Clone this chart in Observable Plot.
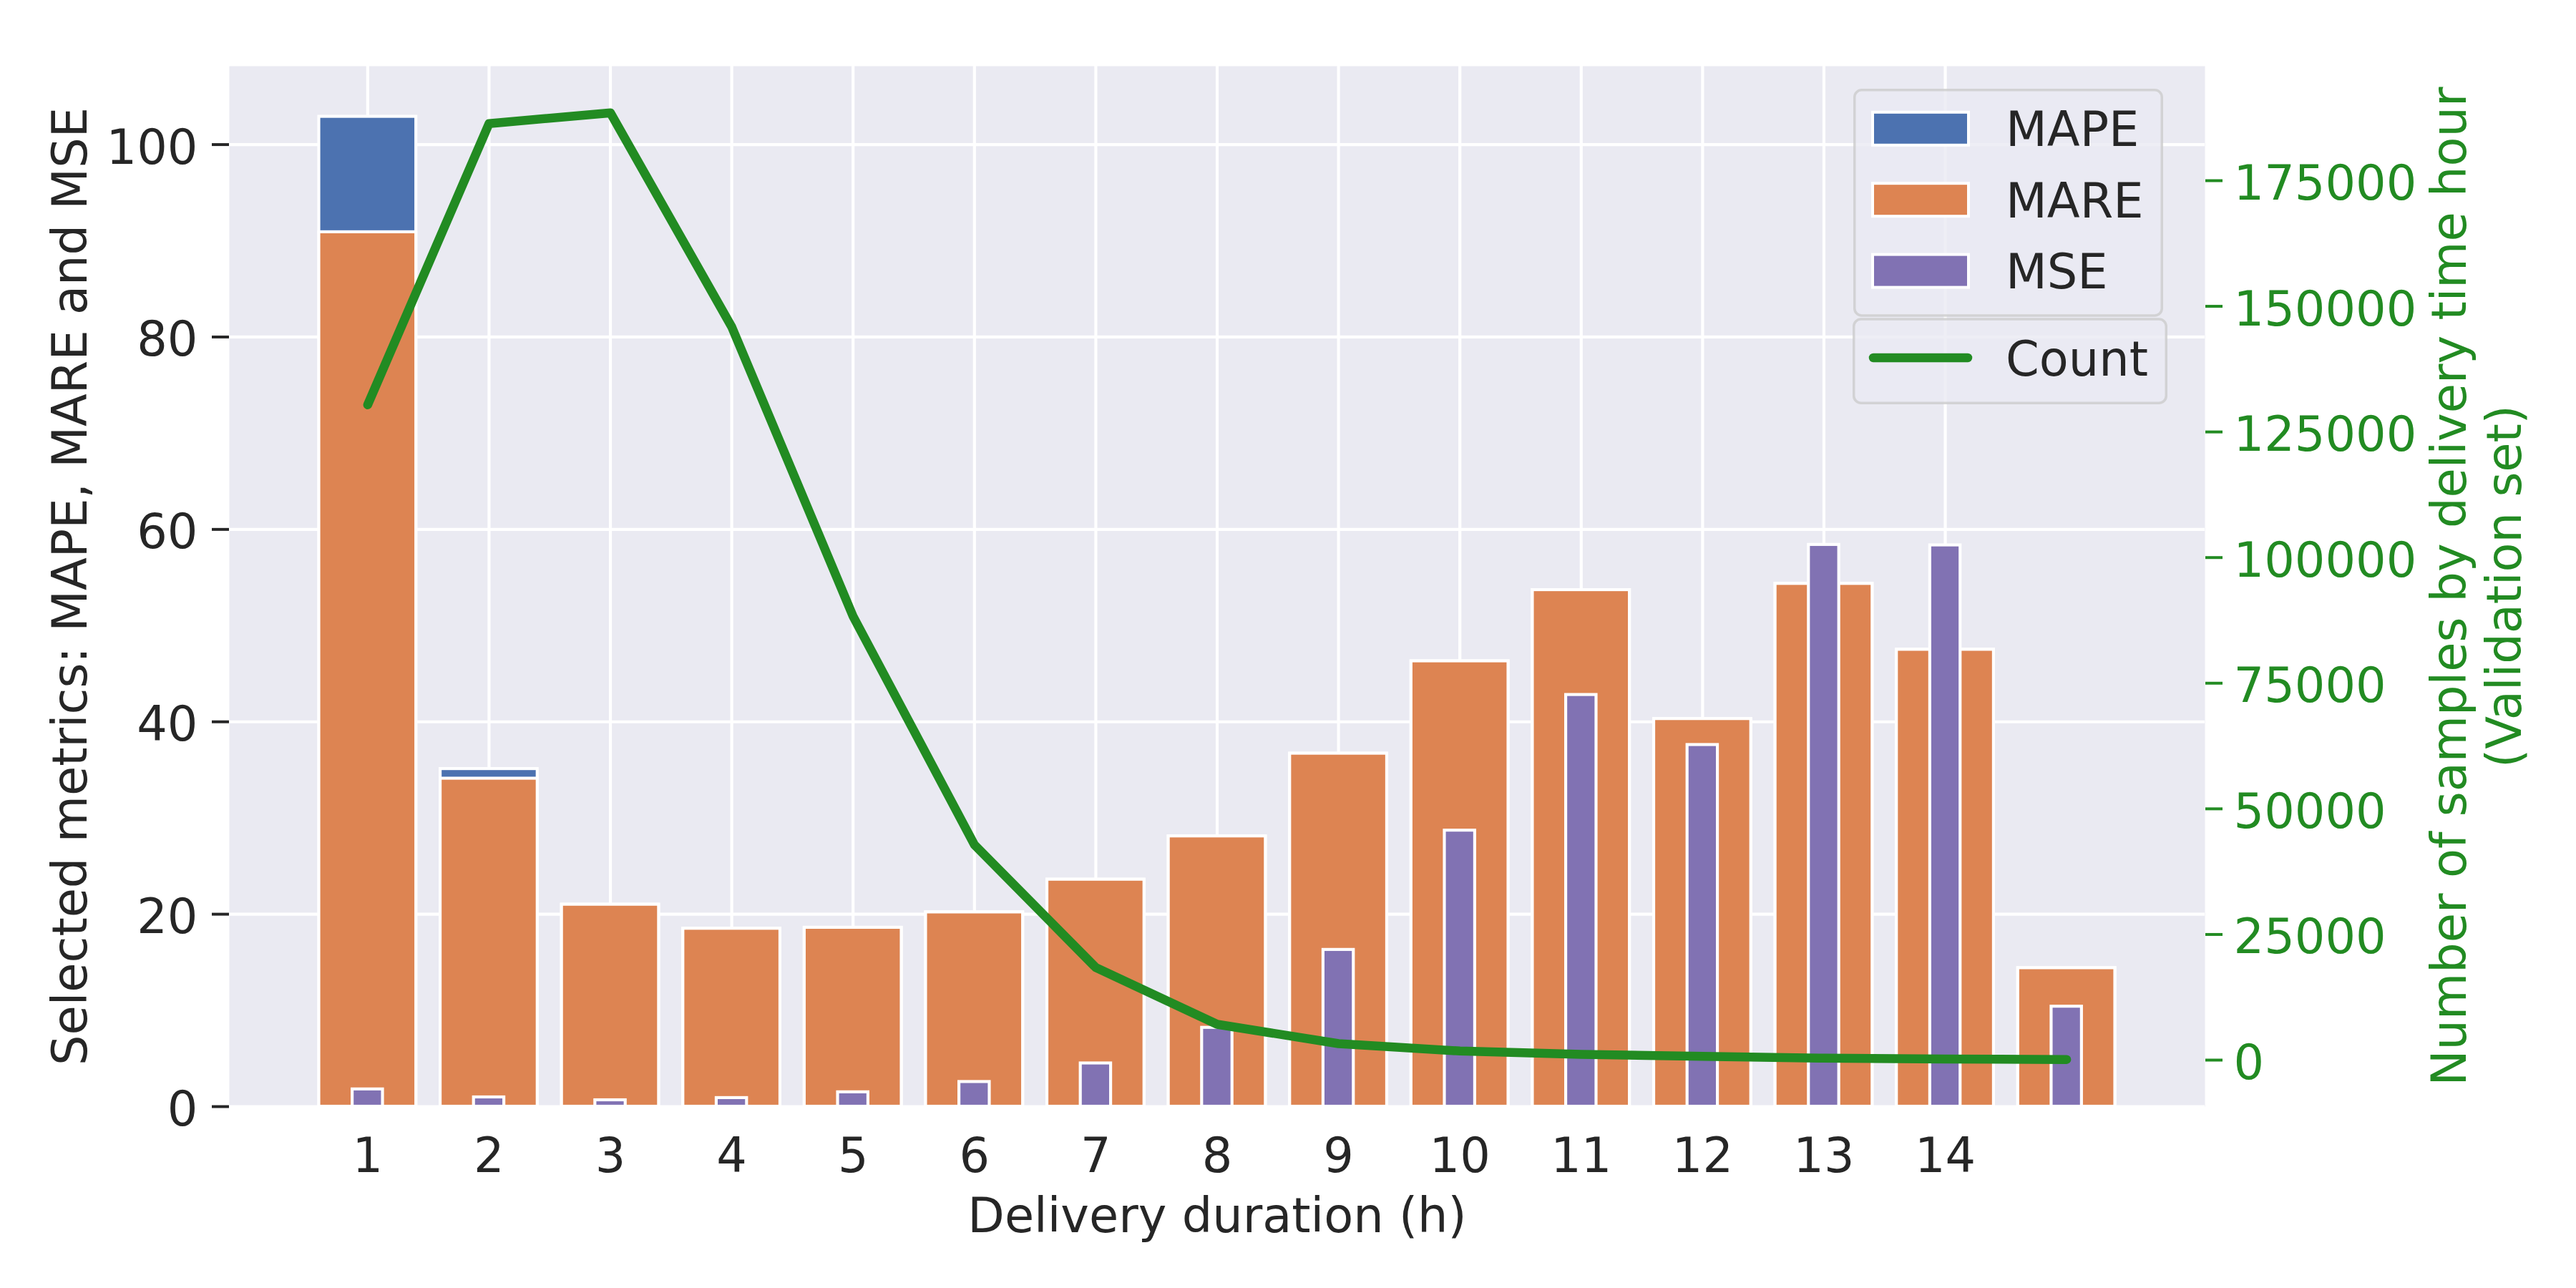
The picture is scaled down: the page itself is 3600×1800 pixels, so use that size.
<!DOCTYPE html>
<html>
<head>
<meta charset="utf-8">
<script src="https://cdn.jsdelivr.net/npm/d3@7"></script>
<script src="https://cdn.jsdelivr.net/npm/@observablehq/plot@0.6"></script>
<style>
  html, body { margin: 0; padding: 0; background: #ffffff; }
  #chart { position: relative; width: 3600px; height: 1800px; }
  #chart > svg { display: block; }
  #legend { position: absolute; left: 0; top: 0; pointer-events: none; }
</style>
</head>
<body>
<div id="chart"></div>
<script>
// ---- data ----
const categories = [1, 2, 3, 4, 5, 6, 7, 8, 9, 10, 11, 12, 13, 14, 15];
const xTickValues = [1, 2, 3, 4, 5, 6, 7, 8, 9, 10, 11, 12, 13, 14];
const xTickLabels = ["1", "2", "3", "4", "5", "6", "7", "8", "9", "10", "11", "12", "13", "14"];
const mape = [102.9, 35.1, 21.0, 18.5, 18.6, 20.2, 23.6, 28.1, 36.7, 46.3, 53.7, 40.3, 54.35, 47.5, 14.4];
const mare = [90.9, 34.1, 21.0, 18.5, 18.6, 20.2, 23.6, 28.1, 36.7, 46.3, 53.7, 40.3, 54.35, 47.5, 14.4];
const mse = [1.8, 0.97, 0.67, 0.9, 1.5, 2.57, 4.5, 8.2, 16.3, 28.7, 42.8, 37.6, 58.4, 58.35, 10.4];
const count = [130400, 186360, 188500, 145900, 88300, 42850, 18410, 7120, 3275, 1810, 1150, 740, 380, 210, 120];
const seriesNames = ["MAPE", "MARE", "MSE"];
const seriesColors = ["#4C72B0", "#DD8452", "#8172B3"];
const lineName = "Count";
const lineColor = "#228B22";
const leftTicks = [0, 20, 40, 60, 80, 100];
const rightTicks = [0, 25000, 50000, 75000, 100000, 125000, 150000, 175000];
const leftDomain = [0, 108.15];
const rightDomain = [-9255, 197780];
const xLabel = "Delivery duration (h)";
const leftLabel = "Selected metrics: MAPE, MARE and MSE";
const rightLabel = "Number of samples by delivery time hour\n(Validation set)";

// ---- helpers ----
const textColor = "#262626";
const toLeft = (c) => (c - rightDomain[0]) / (rightDomain[1] - rightDomain[0]) * (leftDomain[1] - leftDomain[0]) + leftDomain[0];
const rightPos = rightTicks.map(toLeft);
const rightLabelMap = new Map(rightPos.map((p, i) => [p, String(rightTicks[i])]));
const data = categories.map((c, i) => ({cat: c, mape: mape[i], mare: mare[i], mse: mse[i], count: count[i]}));
const barHalf = 0.4, mseHalf = 0.125;

const plot = Plot.plot({
  width: 3600,
  height: 1800,
  marginLeft: 320,
  marginRight: 519,
  marginTop: 92,
  marginBottom: 254,
  x: {type: "linear", domain: [-0.14, 16.14]},
  y: {type: "linear", domain: leftDomain},
  style: {fontFamily: "'DejaVu Sans', sans-serif", fontSize: "67px", color: textColor, background: "#ffffff", overflow: "visible"},
  marks: [
    Plot.frame({fill: "#EAEAF2", stroke: "none"}),
    Plot.gridY(leftTicks, {stroke: "#ffffff", strokeOpacity: 1, strokeWidth: 4.17}),
    Plot.gridX(xTickValues, {stroke: "#ffffff", strokeOpacity: 1, strokeWidth: 4.17}),
    Plot.rect(data, {x1: d => d.cat - barHalf, x2: d => d.cat + barHalf, y1: 0, y2: "mape", fill: seriesColors[0], stroke: "#ffffff", strokeWidth: 4.17}),
    Plot.rect(data, {x1: d => d.cat - barHalf, x2: d => d.cat + barHalf, y1: 0, y2: "mare", fill: seriesColors[1], stroke: "#ffffff", strokeWidth: 4.17}),
    Plot.rect(data, {x1: d => d.cat - mseHalf, x2: d => d.cat + mseHalf, y1: 0, y2: "mse", fill: seriesColors[2], stroke: "#ffffff", strokeWidth: 4.17}),
    Plot.line(data, {x: "cat", y: d => toLeft(d.count), stroke: lineColor, strokeWidth: 12.5, strokeLinecap: "round", strokeLinejoin: "round"}),
    Plot.axisX(xTickValues, {tickSize: 0, tickPadding: 44, tickFormat: d => xTickLabels[xTickValues.indexOf(d)], fill: textColor, label: null}),
    Plot.axisY(leftTicks, {anchor: "left", tickSize: 24, stroke: textColor, strokeWidth: 4, fill: "none", label: null}),
    Plot.axisY(leftTicks, {anchor: "left", tickSize: 24, tickPadding: 20, stroke: "none", fill: textColor, dy: 5, label: null, tickFormat: d => String(d)}),
    Plot.axisY(rightPos, {anchor: "right", tickSize: 24, stroke: lineColor, strokeWidth: 4, fill: "none", label: null}),
    Plot.axisY(rightPos, {anchor: "right", tickSize: 24, tickPadding: 16, stroke: "none", fill: lineColor, dy: 5, label: null, tickFormat: v => rightLabelMap.get(v)}),
    Plot.text([leftLabel], {text: d => d, frameAnchor: "left", textAnchor: "middle", lineAnchor: "middle", dx: -221.4, rotate: -90, fill: textColor}),
    Plot.text([xLabel], {text: d => d, frameAnchor: "bottom", textAnchor: "middle", lineAnchor: "middle", dy: 153.6, fill: textColor}),
    Plot.text([rightLabel], {text: d => d, frameAnchor: "right", textAnchor: "middle", lineAnchor: "middle", dx: 378.6, rotate: -90, lineHeight: 1.15, fill: lineColor})
  ]
});
document.getElementById("chart").appendChild(plot);

// ---- legend overlay ----
const lg = d3.select("#chart").append("svg")
  .attr("id", "legend")
  .attr("width", 3600).attr("height", 1800)
  .style("font-family", "'DejaVu Sans', sans-serif")
  .style("font-size", "67px");

lg.append("rect")
  .attr("x", 2591.75).attr("y", 125.75).attr("width", 429.5).attr("height", 315.2).attr("rx", 10)
  .attr("fill", "rgba(234,234,242,0.8)").attr("stroke", "rgba(204,204,204,0.8)").attr("stroke-width", 3.5);
seriesNames.forEach((name, i) => {
  const cy = 179.8 + i * 99.4;
  lg.append("rect").attr("x", 2617).attr("y", cy - 23).attr("width", 134).attr("height", 46)
    .attr("fill", seriesColors[i]).attr("stroke", "#ffffff").attr("stroke-width", 4);
  lg.append("text").attr("x", 2803).attr("y", cy + 24.4).attr("fill", textColor).text(name);
});

lg.append("rect")
  .attr("x", 2590.75).attr("y", 446).attr("width", 436.5).attr("height", 117.2).attr("rx", 10)
  .attr("fill", "rgba(234,234,242,0.8)").attr("stroke", "rgba(204,204,204,0.8)").attr("stroke-width", 3.5);
lg.append("line").attr("x1", 2618).attr("x2", 2750).attr("y1", 500).attr("y2", 500)
  .attr("stroke", lineColor).attr("stroke-width", 12.5).attr("stroke-linecap", "round");
lg.append("text").attr("x", 2803).attr("y", 525).attr("fill", textColor).text(lineName);
</script>
</body>
</html>
